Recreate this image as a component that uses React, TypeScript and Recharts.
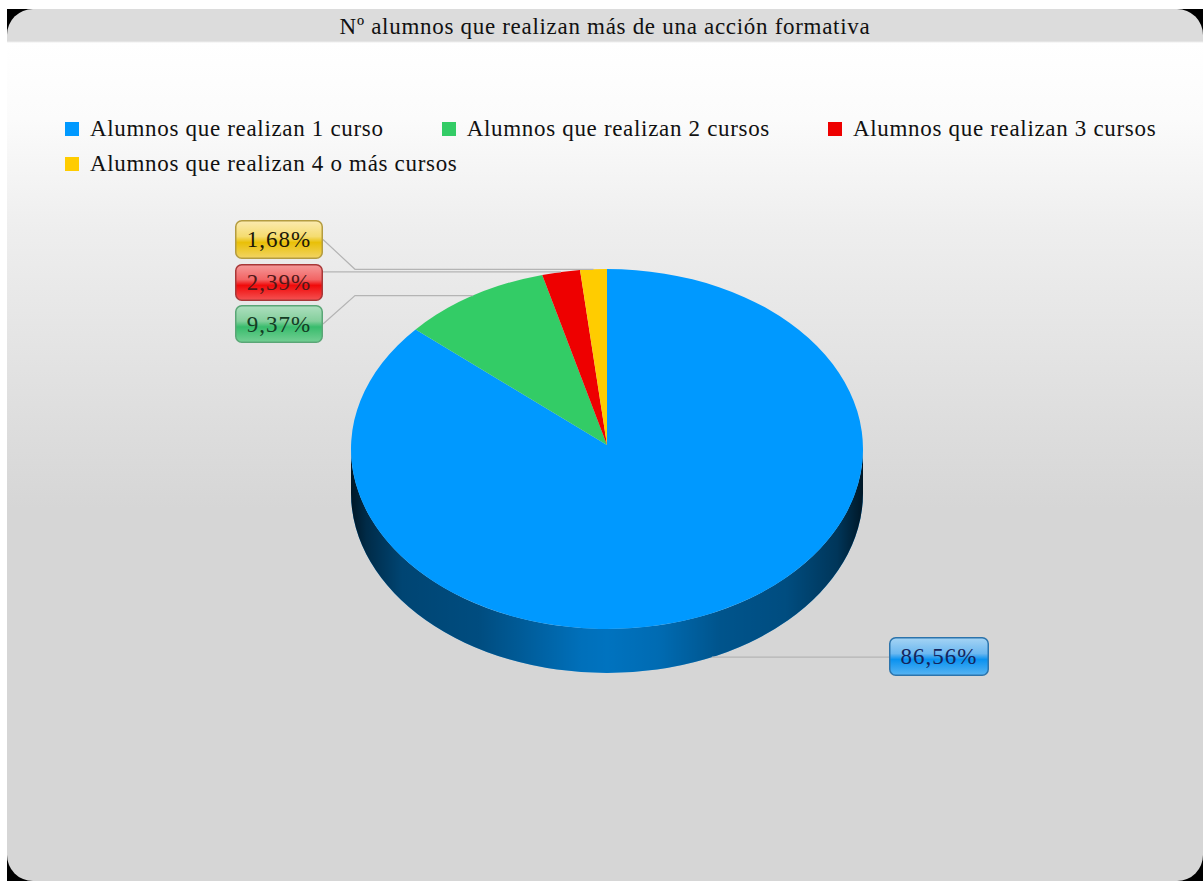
import { PieChart, Pie, Legend } from 'recharts'

const title = 'Nº alumnos que realizan más de una acción formativa'
const categories = [
  'Alumnos que realizan 1 curso',
  'Alumnos que realizan 2 cursos',
  'Alumnos que realizan 3 cursos',
  'Alumnos que realizan 4 o más cursos',
]
const shares = [86.56, 9.37, 2.39, 1.68]
const colors = ['#0099ff', '#33cc66', '#ee0000', '#ffcc00']

const chartData = categories.map((name, i) => ({ name, value: shares[i], fill: colors[i] }))

// pie is a squashed circle with a wall under it
const SQUASH = 0.703
const DEPTH = 44
const APEX_LIFT = 4
const FONT = '"Liberation Serif", "Times New Roman", serif'

// label boxes, same order as the categories
const labelBoxes = [
  { x: 889, y: 637, w: 100, h: 39, elbow: 0 },
  { x: 235, y: 305, w: 88, h: 38, elbow: 355 },
  { x: 235, y: 264, w: 88, h: 37, elbow: 0 },
  { x: 235, y: 220, w: 88, h: 39, elbow: 355 },
]
const glossStops = [
  ['#a6d4f4', '#6cb8f0', '#0a92f0', '#58b4f2', '#2c74ac', '#14245c'],
  ['#aedfbf', '#84cf9c', '#38bc6c', '#74cf94', '#5aa676', '#143c24'],
  ['#f59a9a', '#f26464', '#f00a0a', '#f45252', '#a83838', '#501818'],
  ['#fbeab0', '#f5dc70', '#e9c008', '#f2d464', '#b49c40', '#1c1808'],
]
const wallShade = [
  [0, 0.85],
  [0.03, 0.72],
  [0.1, 0.55],
  [0.25, 0.5],
  [0.38, 0.35],
  [0.45, 0.27],
  [0.5, 0.25],
  [0.6, 0.3],
  [0.72, 0.45],
  [0.85, 0.5],
  [0.95, 0.65],
  [1, 0.85],
]

const toRad = (deg: number) => (deg * Math.PI) / 180

function ellipsePoint(cx: number, cy: number, r: number, deg: number) {
  return { x: cx + r * Math.cos(toRad(deg)), y: cy - SQUASH * r * Math.sin(toRad(deg)) }
}

function SquashedSector(props: any) {
  const { cx, cy, outerRadius: r, startAngle, endAngle, fill } = props
  const ry = r * SQUASH
  const a = ellipsePoint(cx, cy, r, startAngle)
  const b = ellipsePoint(cx, cy, r, endAngle)
  const large = Math.abs(startAngle - endAngle) > 180 ? 1 : 0
  const top = `M${cx},${cy - APEX_LIFT}L${a.x},${a.y}A${r},${ry} 0 ${large} 1 ${b.x},${b.y}Z`

  // the wall only shows on the lower half of the ellipse
  const hi = Math.min(startAngle, 0)
  const lo = Math.max(endAngle, -180)
  let wall = ''
  if (hi > lo) {
    const p = ellipsePoint(cx, cy, r, hi)
    const q = ellipsePoint(cx, cy, r, lo)
    wall = `M${p.x},${p.y}A${r},${ry} 0 0 1 ${q.x},${q.y}L${q.x},${q.y + DEPTH}A${r},${ry} 0 0 0 ${p.x},${p.y + DEPTH}Z`
  }
  return (
    <g>
      {wall && <path d={wall} fill={fill} />}
      {wall && <path d={wall} fill="url(#wallShade)" />}
      <path d={top} fill={fill} />
    </g>
  )
}

function GlossLabel(props: any) {
  const { cx, cy, outerRadius, midAngle, index, value } = props
  const box = labelBoxes[index]
  const anchor = ellipsePoint(cx, cy, outerRadius, midAngle)
  const lower = Math.sin(toRad(midAngle)) < 0
  const ax = anchor.x
  const ay = lower ? anchor.y + DEPTH : anchor.y
  const left = box.x > ax
  const edge = left ? box.x : box.x + box.w
  const midY = box.y + box.h / 2
  const pts = box.elbow
    ? `${edge},${midY} ${box.elbow},${ay} ${ax},${ay}`
    : `${edge},${ay} ${ax},${ay}`
  return (
    <g>
      <polyline points={pts} fill="none" stroke="#b4b4b4" strokeWidth={1.2} />
      <rect
        x={box.x + 0.75}
        y={box.y + 0.75}
        width={box.w - 1.5}
        height={box.h - 1.5}
        rx={6}
        fill={`url(#gloss${index})`}
        stroke={glossStops[index][4]}
        strokeWidth={1.5}
      />
      <text
        x={box.x + box.w / 2}
        y={midY + 7.5}
        textAnchor="middle"
        fontFamily={FONT}
        fontSize={23}
        letterSpacing={1}
        fill={glossStops[index][5]}
      >
        {value.toFixed(2).replace('.', ',')}%
      </text>
    </g>
  )
}

function ChartLegend({ payload }: any) {
  return (
    <div style={{ display: 'flex', flexWrap: 'wrap', fontFamily: FONT, fontSize: 23, color: '#111', letterSpacing: 0.68 }}>
      {payload?.map((entry: any) => (
        <div key={entry.value} style={{ display: 'flex', alignItems: 'center', height: 35, marginRight: 58 }}>
          <span style={{ width: 14, height: 14, marginRight: 11, background: entry.payload?.fill ?? entry.color }} />
          <span>{entry.value}</span>
        </div>
      ))}
    </div>
  )
}

export default function App() {
  return (
    <div style={{ position: 'absolute', left: 0, top: 0, width: 1203, height: 881, background: '#fff', overflow: 'hidden' }}>
      <div style={{ position: 'absolute', left: 7, top: 9, width: 1196, height: 872, background: '#000' }}>
        <div
          style={{
            position: 'absolute',
            inset: 0,
            borderRadius: 26,
            background: 'linear-gradient(180deg, #dcdcdc 0, #dcdcdc 32px, #ffffff 34px, #fbfbfb 110px, #eeeeee 220px, #d6d6d6 500px, #d6d6d6 100%)',
          }}
        />
        <div
          style={{
            position: 'absolute',
            left: 0,
            top: 0,
            width: '100%',
            height: 36,
            lineHeight: '36px',
            textAlign: 'center',
            fontFamily: FONT,
            fontSize: 23,
            letterSpacing: 0.7,
            color: '#111',
          }}
        >
          {title}
        </div>
      </div>
      <div style={{ position: 'absolute', left: 0, top: 0 }}>
        <PieChart width={1203} height={881} margin={{ top: 0, right: 0, bottom: 0, left: 0 }}>
          <defs>
            <linearGradient id="wallShade" x1="0" y1="0" x2="1" y2="0">
              {wallShade.map(([offset, opacity]) => (
                <stop key={offset} offset={offset} stopColor="#000" stopOpacity={opacity} />
              ))}
            </linearGradient>
            {glossStops.map((s, i) => (
              <linearGradient key={i} id={`gloss${i}`} x1="0" y1="0" x2="0" y2="1">
                <stop offset="0" stopColor={s[0]} />
                <stop offset="0.42" stopColor={s[1]} />
                <stop offset="0.58" stopColor={s[2]} />
                <stop offset="1" stopColor={s[3]} />
              </linearGradient>
            ))}
          </defs>
          <Legend
            content={<ChartLegend />}
            wrapperStyle={{ position: 'absolute', left: 65, top: 111, width: 1160, height: 70 }}
          />
          <Pie
            data={chartData}
            dataKey="value"
            nameKey="name"
            cx={607}
            cy={449}
            outerRadius={256}
            startAngle={90}
            endAngle={-270}
            stroke="none"
            isAnimationActive={false}
            shape={SquashedSector}
            inactiveShape={SquashedSector}
            labelLine={false}
            label={GlossLabel}
          />
        </PieChart>
      </div>
    </div>
  )
}
